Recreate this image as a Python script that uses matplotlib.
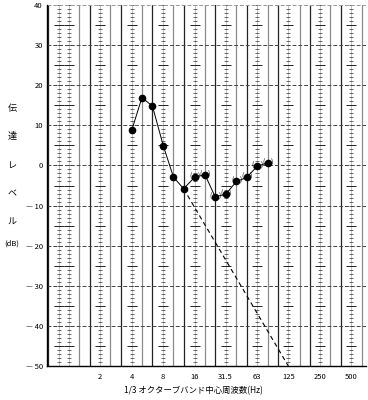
import numpy as np
import matplotlib.pyplot as plt

plt.rcParams['font.family'] = ['Noto Sans CJK JP', 'DejaVu Sans']

# 1/3オクターブバンド中心周波数 (Hz)
bands = [0.63, 0.8, 1, 1.25, 1.6, 2, 2.5, 3.15, 4, 5, 6.3, 8, 10, 12.5, 16, 20, 25,
         31.5, 40, 50, 63, 80, 100, 125, 160, 200, 250, 315, 400, 500, 630]
ladder_bands = [0.8, 1, 2, 4, 8, 16, 31.5, 63, 125, 250, 500]
tick_freqs = [2, 4, 8, 16, 31.5, 63, 125, 250, 500]
tick_labels = ['2', '4', '8', '16', '31.5', '63', '125', '250', '500']

# 伝達レベル (dB)
freq = [4, 5, 6.3, 8, 10, 12.5, 16, 20, 25, 31.5, 40, 50, 63, 80]
level = [8.8, 16.9, 14.8, 4.9, -2.9, -5.8, -2.9, -2.3, -7.8, -7.2, -4.0, -3.0, -0.2, 0.7]
paren = [False] * 6 + [True] * 8   # ( ) 付きの点

# 破線（外挿）
dash_freq = [12.5, 125]
dash_level = [-5.8, -50]

y_ticks = [40, 30, 20, 10, 0, -10, -20, -30, -40, -50]

fig = plt.figure(figsize=(3.68, 4.0), dpi=100)
ax = fig.add_axes([47 / 368, 1 - 366 / 400, 319 / 368, 361 / 400])
ax.set_xscale('log')
ax.set_xlim(0.62, 690)
ax.set_ylim(-50, 40)

# 記録紙の罫線
k = 0
for f in bands:
    if f in ladder_bands:
        ax.axvline(f, color='#aaaaaa', lw=0.5, zorder=1)
        small = np.arange(-50, 40.5, 1)
        big = np.arange(-45, 40, 10)
        ax.plot([f] * len(small), small, ls='none', marker='_', ms=3.2,
                mew=0.5, color='#333333', zorder=1)
        ax.plot([f] * len(big), big, ls='none', marker='_', ms=6.5,
                mew=0.7, color='#222222', zorder=1)
    else:
        ax.axvline(f, color='#222222' if k % 2 == 0 else '#8a8a8a',
                   lw=0.9, zorder=1)
        k += 1

for y in y_ticks:
    if y == -50:
        continue
    ax.axhline(y, color='#444444' if y < 40 else '#999999', lw=0.7,
               dashes=(4, 2), zorder=1)

# データ
ax.plot(dash_freq, dash_level, color='black', lw=0.8, dashes=(4, 3), zorder=2)
ax.plot(freq, level, color='black', lw=0.7, zorder=2)
ax.plot(freq, level, ls='none', marker='o', ms=4.5, color='black', zorder=3)
for f, v, p in zip(freq, level, paren):
    if p:
        ax.annotate('(', (f, v), xytext=(-3.1, 0.3), textcoords='offset points',
                    ha='center', va='center', fontsize=4.8, zorder=3)
        ax.annotate(')', (f, v), xytext=(3.1, 0.3), textcoords='offset points',
                    ha='center', va='center', fontsize=4.8, zorder=3)

ax.set_yticks(y_ticks)
ax.set_yticklabels([str(y) if y >= 0 else '— ' + str(-y) for y in y_ticks])
ax.set_xticks(tick_freqs)
ax.set_xticklabels(tick_labels)
ax.minorticks_off()
ax.tick_params(axis='both', length=0, labelsize=5.5)
ax.tick_params(axis='y', pad=3)
ax.tick_params(axis='x', pad=5)

for s in ['top', 'right']:
    ax.spines[s].set_visible(False)
ax.spines['left'].set_linewidth(1.0)
ax.spines['bottom'].set_linewidth(1.0)

# 軸ラベル
for i, ch in enumerate('伝達レベル'):
    fig.text(12 / 368, 1 - (108 + i * 28.5) / 400, ch, fontsize=6.5,
             ha='center', va='center')
fig.text(12 / 368, 1 - 244 / 400, '(dB)', fontsize=5.5, ha='center', va='center')
fig.text(193 / 368, 1 - 391 / 400, '1/3 オクターブバンド中心周波数(Hz)',
         fontsize=6, ha='center', va='center')

fig.savefig('out.png', dpi=100)
